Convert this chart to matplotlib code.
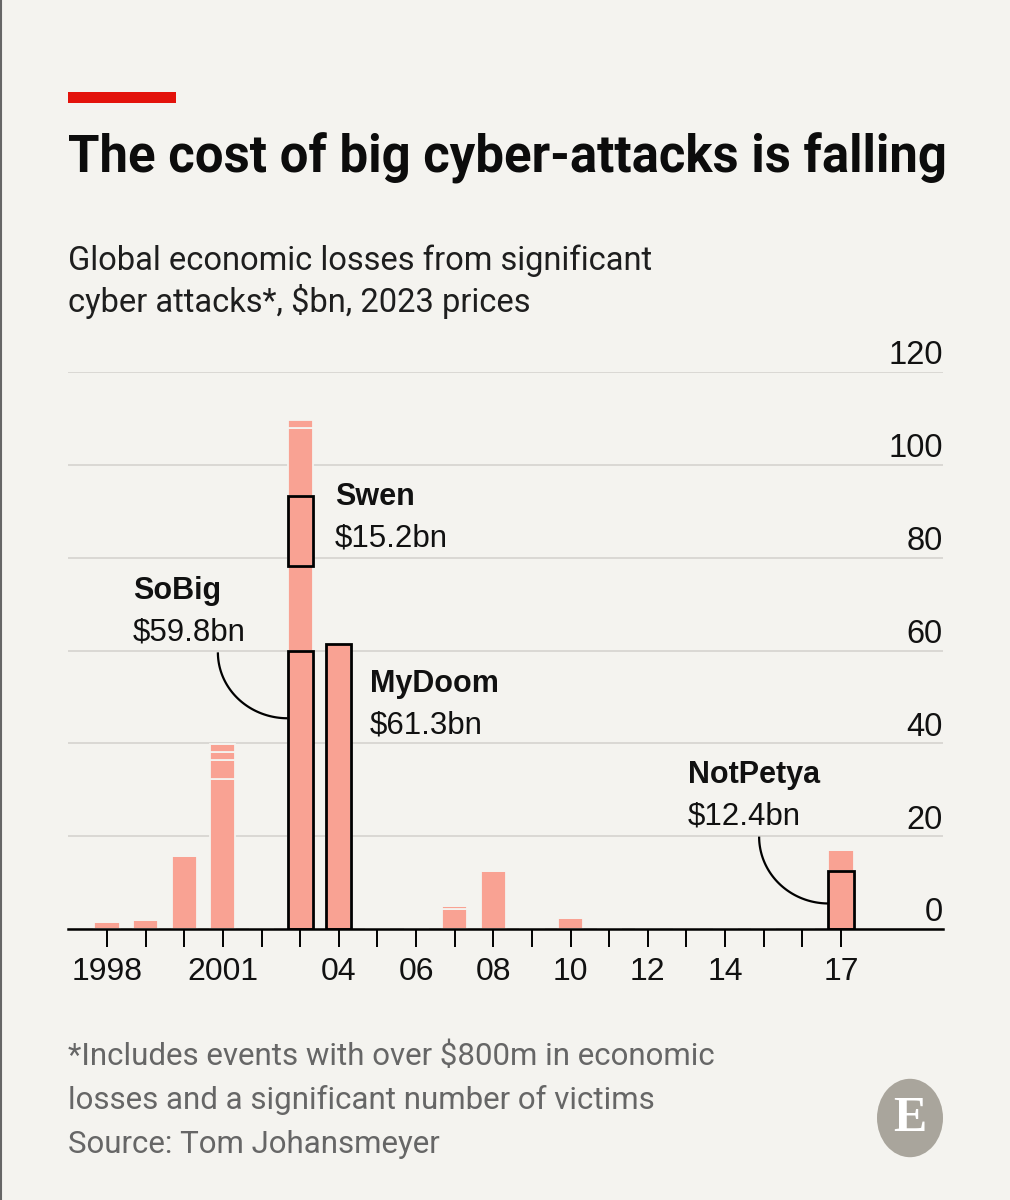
import numpy as np
import matplotlib
matplotlib.use("Agg")
import matplotlib.pyplot as plt
from matplotlib import font_manager
from matplotlib.patches import Circle, Rectangle
from matplotlib.lines import Line2D

# --- data: losses by year, $bn (2023 prices), stacked event by event -------
years = [1998, 1999, 2000, 2001, 2002, 2003, 2004, 2005, 2006, 2007,
         2008, 2009, 2010, 2011, 2012, 2013, 2014, 2015, 2016, 2017]
layer1 = [1.5, 2.0, 15.8, 32.4, 0, 59.8, 61.3, 0, 0, 4.3,
          12.4, 0, 2.4, 0, 0, 0.5, 0, 0, 0, 12.4]
layer2 = [0, 0, 0, 4.0, 0, 18.3, 0, 0, 0, 0.7,
          0, 0, 0, 0, 0, 0, 0, 0, 0, 4.6]
layer3 = [0, 0, 0, 1.7, 0, 15.2, 0, 0, 0, 0,
          0, 0, 0, 0, 0, 0, 0, 0, 0, 0]
layer4 = [0, 0, 0, 1.7, 0, 14.6, 0, 0, 0, 0,
          0, 0, 0, 0, 0, 0, 0, 0, 0, 0]
layer5 = [0, 0, 0, 0, 0, 1.7, 0, 0, 0, 0,
          0, 0, 0, 0, 0, 0, 0, 0, 0, 0]
layers = [layer1, layer2, layer3, layer4, layer5]

# named attacks: year, which stacked layer, label anchor
event_names = ["SoBig", "Swen", "MyDoom", "NotPetya"]
event_years = [2003, 2003, 2004, 2017]
event_layer = [0, 2, 0, 0]
event_label_xy = [(1998.67, 71.2), (2003.90, 91.4), (2004.81, 51.1), (2013.04, 31.5)]
# curved leader lines: start x, start y, end y (end x = bar's left edge)
leaders = {"SoBig": (2000.87, 59.6, 45.4), "NotPetya": (2014.88, 19.9, 5.5)}

yticks = [0, 20, 40, 60, 80, 100, 120]
xlabels = {1998: "1998", 2001: "2001", 2004: "04", 2006: "06", 2008: "08",
           2010: "10", 2012: "12", 2014: "14", 2017: "17"}

# --- style ------------------------------------------------------------------
BG = "#F4F3EF"
BAR = "#F9A293"
GRID = "#D8D6D2"
RED = "#E3120B"
W = 0.65

names = {f.name for f in font_manager.fontManager.ttflist}
NARROW = "Liberation Sans Narrow" if "Liberation Sans Narrow" in names else "Roboto"
SANS = "Liberation Sans" if "Liberation Sans" in names else "DejaVu Sans"
SERIF = "Liberation Serif" if "Liberation Serif" in names else "DejaVu Serif"

fig = plt.figure(figsize=(10.1, 12), dpi=100, facecolor=BG)
ax = fig.add_axes([68 / 1010, 1 - 929 / 1200, 875 / 1010, 557 / 1200])
ax.set_facecolor(BG)

# stacked bars, thin background-coloured gaps between events
bottom = np.zeros(len(years))
bottoms = []
for lay in layers:
    vals = np.array(lay, dtype=float)
    bottoms.append(bottom.copy())
    ax.bar(years, vals, bottom=bottom, width=W, color=BAR,
           edgecolor=BG, linewidth=1.3, zorder=2)
    bottom += vals

# outlines + labels for the named attacks
for name, yr, li, (tx, ty) in zip(event_names, event_years, event_layer, event_label_xy):
    i = years.index(yr)
    val = layers[li][i]
    b = bottoms[li][i]
    ax.bar(yr, val, bottom=b, width=W, fill=False, edgecolor="black",
           linewidth=2.0, zorder=3)
    ax.text(tx, ty, name, fontsize=22, fontweight="bold", family=SANS,
            color="#111111", va="baseline", ha="left", zorder=4)
    ax.annotate(f"${val}bn", xy=(tx, ty), xytext=(0, -30),
                textcoords="offset points", fontsize=22.5, family=SANS,
                color="#111111", va="baseline", ha="left", zorder=4)
    if name in leaders:
        xs, ys, ye = leaders[name]
        xe = yr - W / 2
        t = np.linspace(0, np.pi / 2, 60)
        ax.plot(xe - (xe - xs) * np.cos(t), ys - (ys - ye) * np.sin(t),
                color="black", lw=1.6, zorder=4, solid_capstyle="butt")

# axes cosmetics
ax.set_xlim(1996.99, 2019.64)
ax.set_ylim(0, 120)
for s in ["left", "right", "top"]:
    ax.spines[s].set_visible(False)
ax.spines["bottom"].set_linewidth(1.8)
ax.spines["bottom"].set_zorder(5)
ax.set_yticks(yticks)
ax.yaxis.grid(True, color=GRID, lw=1.3)
ax.set_axisbelow(True)
ax.tick_params(axis="y", length=0, labelleft=False)
for v in yticks:
    ax.annotate(str(v), xy=(1, v), xycoords=ax.get_yaxis_transform(),
                xytext=(0, 5.5), textcoords="offset points", ha="right",
                va="baseline", fontsize=23.5, family=SANS, color="#111111")

ax.set_xticks(years)
ax.set_xticklabels([xlabels.get(y, "") for y in years], fontsize=23, family=SANS,
                   color="#111111")
ax.tick_params(axis="x", length=13, width=1.4, color="black", pad=7)

# --- headline block ---------------------------------------------------------
fig.add_artist(Rectangle((68 / 1010, 1 - 103 / 1200), 108 / 1010, 11 / 1200,
                         transform=fig.transFigure, color=RED, lw=0))
fig.text(68 / 1010, 1 - 172 / 1200, "The cost of big cyber-attacks is falling",
         fontsize=36.6, fontweight="bold", family=NARROW, color="#0C0C0C",
         va="baseline")
fig.text(68 / 1010, 1 - 270 / 1200, "Global economic losses from significant",
         fontsize=23.5, family=NARROW, color="#1E1E1E", va="baseline")
fig.text(68 / 1010, 1 - 312 / 1200, "cyber attacks*, $bn, 2023 prices",
         fontsize=23.5, family=NARROW, color="#1E1E1E", va="baseline")

# --- footnote + logo --------------------------------------------------------
foot = ["*Includes events with over $800m in economic",
        "losses and a significant number of victims",
        "Source: Tom Johansmeyer"]
for k, line in enumerate(foot):
    fig.text(68 / 1010, 1 - (1065 + 44 * k) / 1200, line, fontsize=22.5,
             family=NARROW, color="#666666", va="baseline")

fig.add_artist(Circle((910 / 1010, 1 - 1118 / 1200), 33 / 1010,
                      transform=fig.transFigure, color="#A9A59C", lw=0))
fig.text(910 / 1010, 1 - 1119 / 1200, "E", fontsize=36, family=SERIF,
         fontweight="bold", color="white", ha="center", va="center")
fig.add_artist(Line2D([0.001, 0.001], [0, 1], transform=fig.transFigure,
                      color="#666666", lw=1.5))

fig.savefig("out.png", dpi=100, facecolor=BG)
